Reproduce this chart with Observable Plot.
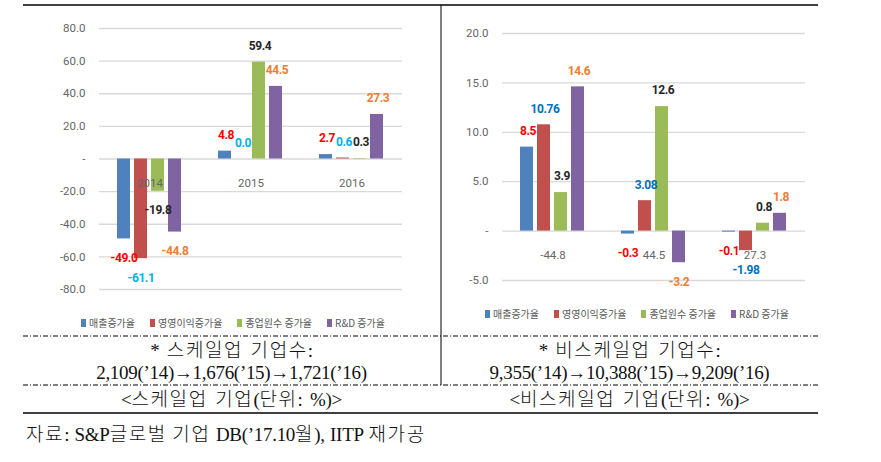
<!DOCTYPE html>
<html>
<head>
<meta charset="utf-8">
<script src="https://cdn.jsdelivr.net/npm/d3@7"></script>
<script src="https://cdn.jsdelivr.net/npm/@observablehq/plot@0.6"></script>
<style>
  body { margin: 0; background: #fff; }
  #wrap { position: relative; width: 881px; height: 462px; overflow: hidden; background: #fff; font-family: "Noto Sans CJK KR", sans-serif; }
  .chart { position: absolute; top: 0; }
  .chart svg g[font-weight="bold"] { letter-spacing: -0.4px; }
  .legend { position: absolute; display: flex; align-items: center; font-size: 10px; color: #595959; white-space: nowrap; line-height: 14px; }
  .legend .item { display: flex; align-items: center; margin-right: 15px; }
  .legend i { display: inline-block; width: 5px; height: 8px; margin-right: 3px; }
  .cell { position: absolute; text-align: center; font-family: "Liberation Serif", "Noto Sans CJK KR", serif; font-weight: 300; font-size: 19px; color: #111; line-height: 22px; white-space: nowrap; letter-spacing: -0.3px; }
  .cell .ko { letter-spacing: 1.6px; }
  .wide { word-spacing: 3px; }
  #source { word-spacing: 1px; }
  #lines { position: absolute; left: 0; top: 0; pointer-events: none; }
</style>
</head>
<body>
<div id="wrap">
  <div id="left" class="chart" style="left:0px"></div>
  <div id="right" class="chart" style="left:441px"></div>
  <div id="legendL" class="legend" style="left:81px; top:316px"></div>
  <div id="legendR" class="legend" style="left:485px; top:307px"></div>
  <div id="noteL" class="cell wide" style="left:23px; width:417px; top:340px"></div>
  <div id="noteR" class="cell wide" style="left:441px; width:377px; top:340px"></div>
  <div id="capL" class="cell wide" style="left:23px; width:417px; top:389px"></div>
  <div id="capR" class="cell wide" style="left:441px; width:377px; top:389px"></div>
  <div id="source" class="cell" style="left:26px; top:424px; text-align:left"></div>
  <svg id="lines" width="881" height="462">
    <line x1="23" x2="818" y1="5" y2="5" stroke="#000" stroke-width="1.5"/>
    <line x1="441" x2="441" y1="5" y2="385" stroke="#000" stroke-width="1"/>
    <line x1="23" x2="818" y1="336" y2="336" stroke="#000" stroke-width="1" stroke-dasharray="5,2,1,2"/>
    <line x1="23" x2="818" y1="385" y2="385" stroke="#000" stroke-width="1" stroke-dasharray="5,2,1,2"/>
    <line x1="23" x2="818" y1="413" y2="413" stroke="#000" stroke-width="1.5"/>
  </svg>
</div>
<script>
// ---- shared ----
const years = ["2014", "2015", "2016"];
const seriesNames = ["매출증가율", "영영이익증가율", "종업원수 증가율", "R&D 증가율"];
const barColors = ["#4F81BD", "#C0504D", "#9BBB59", "#8064A2"];

// ---- 스케일업 기업 (left) ----
const scaleSales = [-49.0, 4.8, 2.7];
const scaleProfit = [-61.1, 0.0, 0.6];
const scaleEmployees = [-19.8, 59.4, 0.3];
const scaleRnD = [-44.8, 44.5, 27.3];
const scaleCategoryLabels = ["2014", "2015", "2016"];
const scaleYTicks = [-80, -60, -40, -20, 0, 20, 40, 60, 80];
const scaleDecimals = [1, 1, 1, 1];
const scaleLabelColors = ["#FF0000", "#00B0F0", "#262626", "#ED7D31"];

// ---- 비스케일업 기업 (right) ----
const nonSales = [8.5, -0.3, -0.1];
const nonProfit = [10.76, 3.08, -1.98];
const nonEmployees = [3.9, 12.6, 0.8];
const nonRnD = [14.6, -3.2, 1.8];
const nonCategoryLabels = ["-44.8", "44.5", "27.3"];
const nonYTicks = [-5, 0, 5, 10, 15, 20];
const nonDecimals = [1, 2, 1, 1];
const nonLabelColors = ["#FF0000", "#0070C0", "#262626", "#ED7D31"];

// ---- texts ----
const noteLeft = ["* 스케일업 기업수:", "2,109(’14)→1,676(’15)→1,721(’16)"];
const noteRight = ["* 비스케일업 기업수:", "9,355(’14)→10,388(’15)→9,209(’16)"];
const captionLeft = "<스케일업 기업(단위: %)>";
const captionRight = "<비스케일업 기업(단위: %)>";
const sourceText = "자료: S&P글로벌 기업 DB(’17.10월), IITP 재가공";

const labelFont = "'Liberation Sans Narrow', Roboto, sans-serif";

function makeChart({values, catLabels, yDomain, yTicks, decimals, labelColors, width, height, margins}) {
  const rows = [];
  years.forEach((yr, i) => values.forEach((arr, j) => rows.push({
    year: yr, series: seriesNames[j], value: arr[i], label: arr[i].toFixed(decimals[j])
  })));
  const cats = years.map((yr, i) => ({year: yr, text: catLabels[i]}));
  const labelMarks = [];
  seriesNames.forEach((s, j) => {
    labelMarks.push(Plot.text(rows, {
      filter: d => d.series === s && d.value >= 0,
      fx: "year", x: "series", y: "value", text: "label", dy: -16, dx: 1,
      fill: labelColors[j], fontWeight: "bold", fontSize: 12, fontFamily: labelFont
    }));
    labelMarks.push(Plot.text(rows, {
      filter: d => d.series === s && d.value < 0,
      fx: "year", x: "series", y: "value", text: "label", dy: 19,
      fill: labelColors[j], fontWeight: "bold", fontSize: 12, fontFamily: labelFont
    }));
  });
  return Plot.plot({
    width, height, ...margins,
    style: {fontFamily: "Roboto, 'Noto Sans CJK KR', sans-serif", background: "transparent", overflow: "visible"},
    fx: {domain: years, padding: 0, axis: null},
    x: {domain: seriesNames, paddingInner: 0.22, paddingOuter: 0.92, axis: null},
    y: {domain: yDomain},
    color: {domain: seriesNames, range: barColors},
    marks: [
      Plot.gridY(yTicks, {stroke: "#D9D9D9", strokeOpacity: 1, strokeWidth: 1.3}),
      Plot.axisY(yTicks, {tickSize: 0, tickPadding: 14, tickFormat: d => d === 0 ? "-" : d.toFixed(1), color: "#666666", fontSize: 11.5, label: null}),
      Plot.barY(rows, {fx: "year", x: "series", y: "value", fill: "series"}),
      Plot.text(cats, {fx: "year", y: () => 0, text: "text", dy: 24, fill: "#666666", fontSize: 11.5}),
      ...labelMarks
    ]
  });
}

document.getElementById("left").append(makeChart({
  values: [scaleSales, scaleProfit, scaleEmployees, scaleRnD],
  catLabels: scaleCategoryLabels, yDomain: [-80, 80], yTicks: scaleYTicks,
  decimals: scaleDecimals, labelColors: scaleLabelColors,
  width: 440, height: 300,
  margins: {marginLeft: 99, marginRight: 38, marginTop: 28, marginBottom: 11}
}));

document.getElementById("right").append(makeChart({
  values: [nonSales, nonProfit, nonEmployees, nonRnD],
  catLabels: nonCategoryLabels, yDomain: [-5, 20], yTicks: nonYTicks,
  decimals: nonDecimals, labelColors: nonLabelColors,
  width: 440, height: 300,
  margins: {marginLeft: 61, marginRight: 76, marginTop: 33, marginBottom: 20}
}));

function buildLegend(id) {
  const el = document.getElementById(id);
  seriesNames.forEach((s, j) => {
    const item = document.createElement("span");
    item.className = "item";
    const sw = document.createElement("i");
    sw.style.background = barColors[j];
    item.append(sw, document.createTextNode(s));
    el.append(item);
  });
}
buildLegend("legendL");
buildLegend("legendR");

function esc(s) { return s.replace(/&/g, "&amp;").replace(/</g, "&lt;").replace(/>/g, "&gt;"); }
function koWrap(s) { return esc(s).replace(/([가-힣]+)/g, '<span class="ko">$1</span>'); }
document.getElementById("noteL").innerHTML = noteLeft.map(koWrap).join("<br>");
document.getElementById("noteR").innerHTML = noteRight.map(koWrap).join("<br>");
document.getElementById("capL").innerHTML = koWrap(captionLeft);
document.getElementById("capR").innerHTML = koWrap(captionRight);
document.getElementById("source").innerHTML = koWrap(sourceText);
</script>
</body>
</html>
